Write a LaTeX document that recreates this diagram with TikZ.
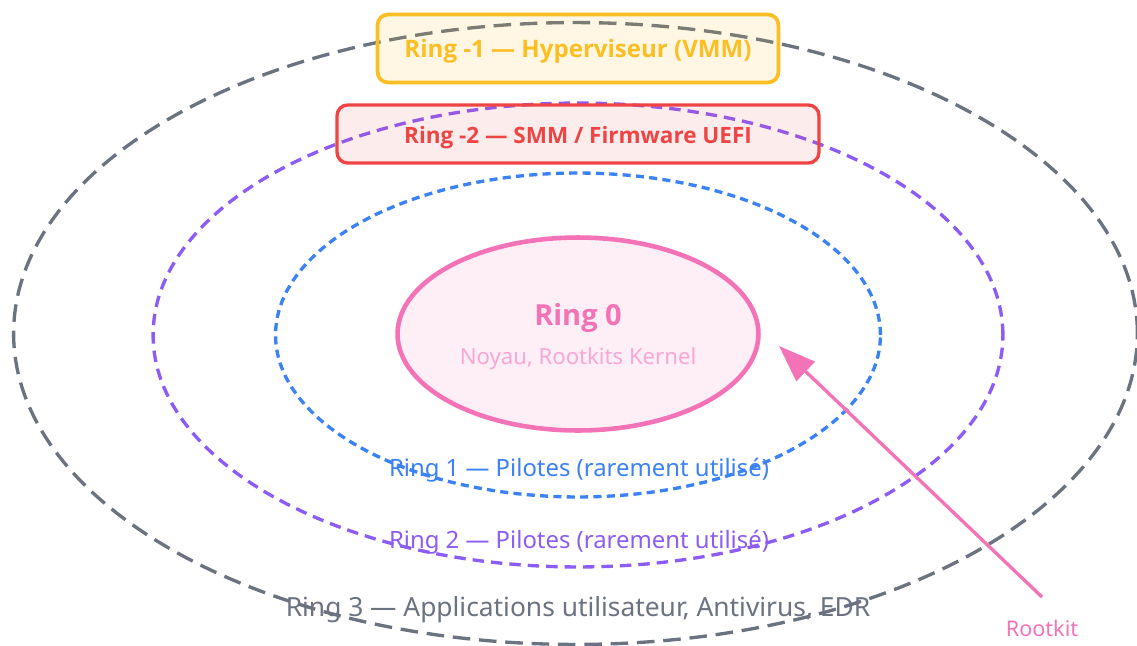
\documentclass[tikz,border=0pt]{standalone}
\usepackage{fontspec}
\setmainfont{Noto Sans}
\newfontfamily\notobold{Open Sans}
\usetikzlibrary{shapes.geometric,arrows.meta}
\definecolor{cgray}{HTML}{6B7280}
\definecolor{cpurple}{HTML}{8B5CF6}
\definecolor{cblue}{HTML}{3B82F6}
\definecolor{cpink}{HTML}{F472B6}
\definecolor{cpinklight}{HTML}{F9A8D4}
\definecolor{cyellow}{HTML}{FBBF24}
\definecolor{cred}{HTML}{EF4444}
\tikzset{
  ring/.style={ellipse, draw, inner sep=0pt, line width=1.9pt},
  levelbox/.style={rectangle, rounded corners=6pt, line width=1.9pt, inner sep=0pt},
  boxtitle/.style={inner sep=0pt, font=\notobold\bfseries\fontsize{12.8}{15}\selectfont},
  ringlabel/.style={inner sep=0pt, font=\fontsize{13.6}{16}\selectfont},
}
\begin{document}
\begin{tikzpicture}[x=0.02cm, y=-0.02cm]
\useasboundingbox (0,0) rectangle (1137,646);
% rings
\node[ring, cgray, dash pattern=on 10pt off 5pt, minimum width=22.48cm, minimum height=12.44cm] (r3) at (575.5,333.5) {};
\node[ring, cpurple, dash pattern=on 6.5pt off 4pt, minimum width=17.0cm, minimum height=9.28cm] (r2) at (578,335) {};
\node[ring, cblue, dash pattern=on 4.6pt off 3pt, minimum width=12.1cm, minimum height=6.48cm] (r1) at (578,335) {};
\node[ring, cpink, fill=cpink!12, line width=2.6pt, minimum width=7.22cm, minimum height=3.86cm] (r0) at (578,334) {};
% top boxes
\node[levelbox, draw=cyellow, line width=2.1pt, fill=cyellow, fill opacity=0.12, minimum width=8.02cm, minimum height=1.36cm] (hyp) at (578,48.5) {};
\node[boxtitle, text=cyellow, font=\notobold\bfseries\fontsize{13.7}{16}\selectfont] (hyptext) at (578,51) {Ring -1 — Hyperviseur (VMM)};
\node[levelbox, draw=cred, fill=cred, fill opacity=0.10, minimum width=9.64cm, minimum height=1.16cm] (smm) at (578,134) {};
\node[boxtitle, text=cred] (smmtext) at (578,138) {Ring -2 — SMM / Firmware UEFI};
% ring 0 text
\node[inner sep=0pt, font=\notobold\bfseries\fontsize{16.5}{19}\selectfont, text=cpink] (r0title) at (578,318) {Ring 0};
\node[inner sep=0pt, font=\fontsize{12.6}{15}\selectfont, text=cpinklight] (r0sub) at (578,359) {Noyau, Rootkits Kernel};
% ring labels
\node[ringlabel, text=cblue] (l1) at (579,470) {Ring 1 — Pilotes (rarement utilisé)};
\node[ringlabel, text=cpurple] (l2) at (579,542) {Ring 2 — Pilotes (rarement utilisé)};
\node[ringlabel, text=cgray, font=\fontsize{15}{18}\selectfont] (l3) at (578,610) {Ring 3 — Applications utilisateur, Antivirus, EDR};
% rootkit
\node[inner sep=0pt, text=cpink, font=\fontsize{12.3}{14}\selectfont] (rk) at (1042,628) {Rootkit};
\coordinate (rkstart) at (1042,597);
\coordinate (rktip) at (779,346);
\draw[cpink, line width=1.9pt, -{Triangle[length=21pt,width=15pt]}] (rkstart) -- (rktip);
\end{tikzpicture}
\end{document}
